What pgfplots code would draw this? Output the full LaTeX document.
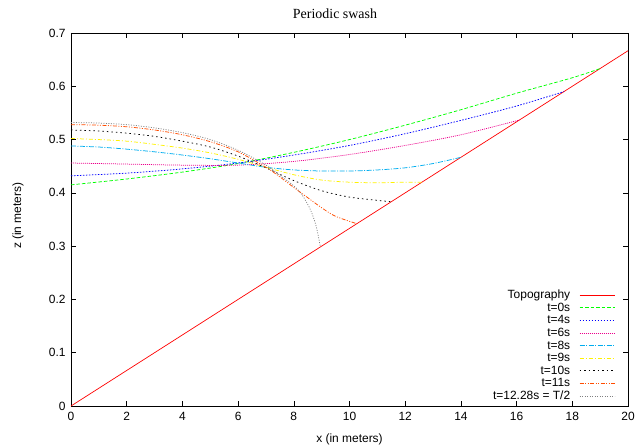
\documentclass[border=0pt]{standalone}
\usepackage{fontspec}
\setmainfont{Liberation Sans}
\newfontfamily\serifff{Liberation Serif}
\usepackage{pgfplots}
\pgfplotsset{compat=1.18}
\definecolor{lorange}{rgb}{1,0.3,0}
\definecolor{lgrey}{rgb}{0.5,0.5,0.5}
\begin{document}
\begin{tikzpicture}
\useasboundingbox (-71bp,-42bp) rectangle (572bp,406bp);
\begin{axis}[
  at={(0,0)}, anchor=south west,
  scale only axis, width=557bp, height=373bp,
  xmin=0, xmax=20, ymin=0, ymax=0.7,
  xtick={0,2,...,20}, ytick={0,0.1,...,0.7},
  yticklabel style={/pgf/number format/fixed,/pgf/number format/precision=1, xshift=-2bp},
  xticklabel style={yshift=-3bp},
  /pgf/number format/assume math mode=true,
  tick align=inside, tick pos=both,
  major tick length=5bp,
  axis line style={line width=0.8pt},
  every tick/.style={line width=0.6pt, black},
  ticklabel style={font=\fontsize{12}{14}\selectfont},
  xlabel={x (in meters)}, ylabel={z (in meters)},
  label style={font=\fontsize{12}{14}\selectfont},
  xlabel style={at={(axis description cs:0.5,0)}, anchor=north, yshift=-24bp},
  ylabel style={at={(axis description cs:0,0.51)}, anchor=south, yshift=44bp},
  legend style={draw=none, fill=none, at={(axis description cs:0.977,0.317)}, anchor=north east,
    font=\fontsize{12}{14}\selectfont, legend plot pos=right, inner sep=0pt,
    row sep=-1.2bp, column sep=7bp},
  legend cell align=right,
  legend image code/.code={\draw[#1, line width=0.8pt] (0bp,0bp) -- (35bp,0bp);},
  every axis plot/.append style={line width=0.75pt},
  clip=true,
]
\addplot[red, solid, line width=0.7pt] coordinates {(0,0) (20,0.6667)};
\addlegendentry{Topography}
\addplot[green, dash pattern=on 3.5bp off 2bp, smooth] coordinates {
(0,0.415) (2,0.426) (4,0.439) (6,0.455) (8,0.476) (10,0.500) (12,0.527) (14,0.556) (16,0.587) (18,0.616) (19,0.6333)};
\addlegendentry{t=0s}
\addplot[blue, dash pattern=on 1.5bp off 1.5bp, smooth] coordinates {
(0,0.432) (2,0.437) (4,0.445) (6,0.456) (8,0.471) (10,0.489) (12,0.511) (14,0.536) (16,0.563) (17.7,0.59)};
\addlegendentry{t=4s}
\addplot[magenta, dash pattern=on 1bp off 1bp, smooth] coordinates {
(0,0.456) (2,0.454) (4,0.452) (6,0.452) (8,0.459) (10,0.472) (12,0.489) (14,0.509) (16.1,0.5367)};
\addlegendentry{t=6s}
\addplot[cyan, dash pattern=on 5bp off 1.5bp on 1bp off 1.5bp, smooth] coordinates {
(0,0.488) (1,0.486) (2,0.482) (3,0.477) (4,0.471) (5,0.464) (6,0.456) (7,0.448) (8,0.443) (9,0.441) (10,0.441) (11,0.443) (12,0.447) (13,0.455) (14,0.4667)};
\addlegendentry{t=8s}
\addplot[yellow, dash pattern=on 4bp off 2bp on 1bp off 2bp, smooth] coordinates {
(0,0.502) (1,0.500) (2,0.497) (3,0.491) (4,0.484) (5,0.475) (6,0.463) (7,0.448) (8,0.434) (9,0.424) (10,0.420) (11,0.419) (12,0.420) (12.6,0.42)};
\addlegendentry{t=9s}
\addplot[black, dash pattern=on 1.5bp off 3bp, smooth] coordinates {
(0,0.518) (1,0.516) (2,0.512) (3,0.506) (4,0.497) (5,0.486) (6,0.469) (7,0.447) (8,0.423) (9,0.404) (10,0.392) (11,0.386) (11.5,0.3833)};
\addlegendentry{t=10s}
\addplot[lorange, dash pattern=on 4bp off 1.5bp on 1bp off 1.5bp on 1bp off 1.5bp, smooth] coordinates {
(0,0.528) (1,0.527) (2,0.524) (3,0.518) (4,0.509) (5,0.496) (6,0.477) (7,0.448) (7.5,0.430) (8,0.410) (8.5,0.391) (9,0.372) (9.5,0.356) (10.27,0.342)};
\addlegendentry{t=11s}
\addplot[lgrey, dash pattern=on 1bp off 1.5bp, smooth] coordinates {
(0,0.532) (1,0.531) (2,0.528) (3,0.522) (4,0.513) (5,0.500) (6,0.480) (7,0.452) (7.5,0.433) (8,0.413) (8.3,0.396) (8.6,0.368) (8.8,0.338) (8.95,0.300)};
\addlegendentry{t=12.28s = T/2}
\end{axis}
\node[font=\serifff\fontsize{14}{16}\selectfont, anchor=base] at (264bp,387bp) {Periodic swash};
\end{tikzpicture}
\end{document}
